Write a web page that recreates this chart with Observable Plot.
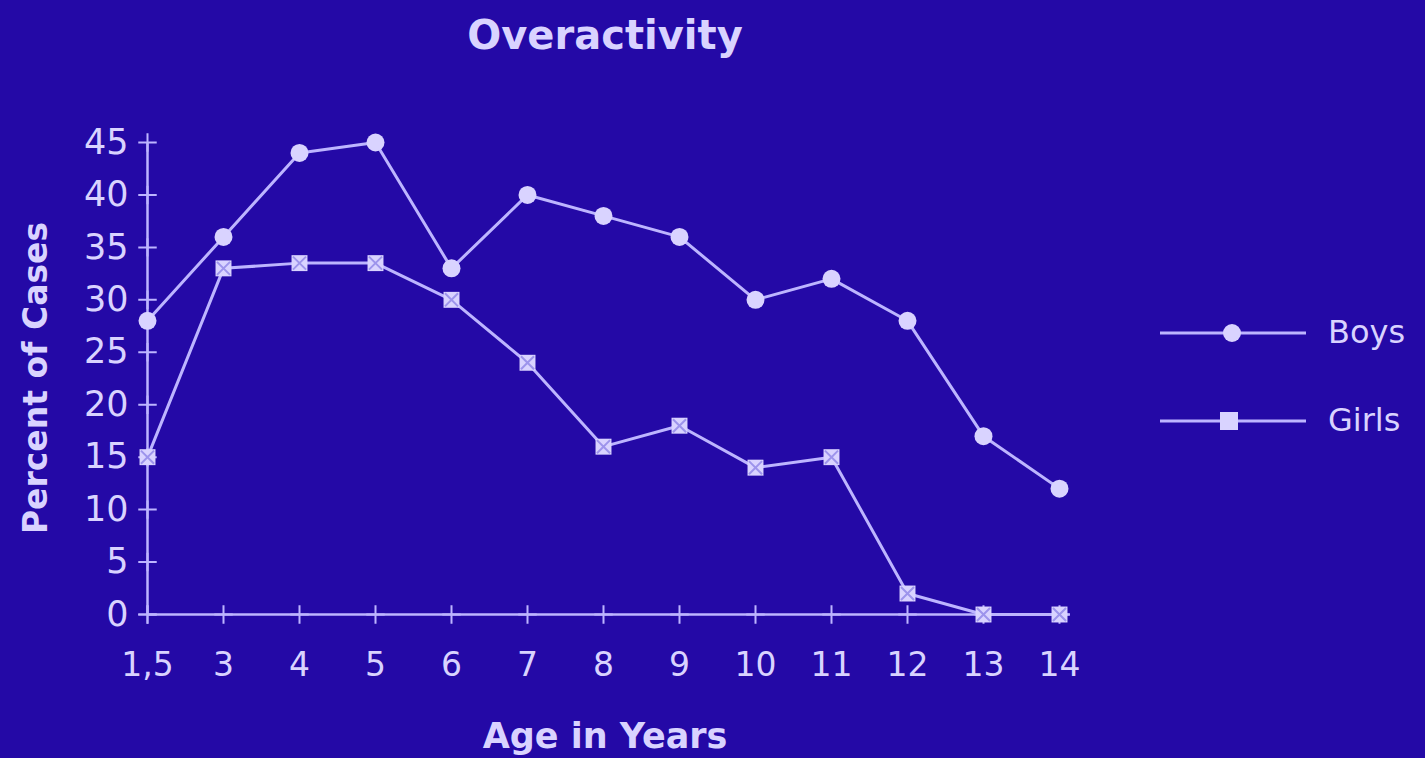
<!DOCTYPE html>
<html><head><meta charset="utf-8">
<script src="https://cdn.jsdelivr.net/npm/d3@7"></script>
<script src="https://cdn.jsdelivr.net/npm/@observablehq/plot@0.6"></script>
<style>
html,body{margin:0;padding:0;background:#2409a6;overflow:hidden}
#wrap{position:relative;width:1425px;height:758px;background:#2409a6}
.t{position:absolute;color:#d9d3ff;font-family:"DejaVu Sans",sans-serif;white-space:nowrap}
</style></head>
<body><div id="wrap"></div>
<script>
const title = "Overactivity";
const xLabel = "Age in Years";
const yLabel = "Percent of Cases";
const ages = ["1,5","3","4","5","6","7","8","9","10","11","12","13","14"];
const boys = [28,36,44,45,33,40,38,36,30,32,28,17,12];
const girls = [15,33,33.5,33.5,30,24,16,18,14,15,2,0,0];
const yTicks = [0,5,10,15,20,25,30,35,40,45];
const seriesNames = ["Boys","Girls"];

const fg = "#d9d3ff";
const lineCol = "#bdb5ff";
const bg = "#2409a6";

const boyData = ages.map((a,i)=>({age:a, v:boys[i]}));
const girlData = ages.map((a,i)=>({age:a, v:girls[i]}));

const chart = Plot.plot({
  width: 1425, height: 758,
  marginLeft: 148, marginRight: 355, marginTop: 142, marginBottom: 144,
  style: {background: bg, color: fg, fontFamily: "DejaVu Sans, sans-serif"},
  x: {type: "point", domain: ages, range: [143, 1063], padding: 0, align: 0.5},
  y: {domain: [0,45], range: [614, 142]},
  marks: [
    Plot.ruleX([ages[0]], {stroke: lineCol, strokeWidth: 2.5}),
    Plot.ruleY([0], {stroke: lineCol, strokeWidth: 2.5}),
    Plot.dot(yTicks, {x: () => ages[0], y: d => d, symbol: "plus", r: 6, stroke: lineCol, strokeWidth: 2}),
    Plot.dot(ages, {x: d => d, y: () => 0, symbol: "plus", r: 6, stroke: lineCol, strokeWidth: 2}),
    Plot.axisY(yTicks, {tickSize: 0, tickPadding: 20, fontSize: 35, label: null, color: fg}),
    Plot.axisX({tickSize: 0, tickPadding: 38, fontSize: 33, label: null, color: fg}),
    Plot.line(boyData, {x: "age", y: "v", stroke: lineCol, strokeWidth: 3}),
    Plot.line(girlData, {x: "age", y: "v", stroke: lineCol, strokeWidth: 3}),
    Plot.dot(boyData, {x: "age", y: "v", r: 9, fill: fg, stroke: "none"}),
    Plot.dot(girlData, {x: "age", y: "v", symbol: "square", r: 9, fill: fg, stroke: "none"}),
    Plot.dot(girlData, {x: "age", y: "v", symbol: "times", r: 6, stroke: "#9d94ec", strokeWidth: 2})
  ]
});
const wrap = document.getElementById("wrap");
wrap.appendChild(chart);
chart.style.position = "absolute"; chart.style.left = "0"; chart.style.top = "0";

function addText(txt, css){
  const d = document.createElement("div"); d.className = "t"; d.textContent = txt;
  Object.assign(d.style, css); wrap.appendChild(d); return d;
}
addText(title, {left: "605px", top: "12px", transform: "translateX(-50%)", fontSize: "40px", fontWeight: "bold"});
addText(xLabel, {left: "605px", top: "716px", transform: "translateX(-50%)", fontSize: "35px", fontWeight: "bold"});
addText(yLabel, {left: "35px", top: "378px", transform: "translate(-50%,-50%) rotate(-90deg)", fontSize: "33px", fontWeight: "bold"});

// legend
const ly = [333, 421];
seriesNames.forEach((name, i) => {
  const ns = "http://www.w3.org/2000/svg";
  const s = document.createElementNS(ns, "svg");
  s.setAttribute("width", 150); s.setAttribute("height", 30);
  s.style.position = "absolute"; s.style.left = "1158px"; s.style.top = (ly[i]-15) + "px";
  const l = document.createElementNS(ns, "line");
  l.setAttribute("x1", 2); l.setAttribute("x2", 148); l.setAttribute("y1", 15); l.setAttribute("y2", 15);
  l.setAttribute("stroke", lineCol); l.setAttribute("stroke-width", 3); s.appendChild(l);
  if (i === 0) {
    const c = document.createElementNS(ns, "circle");
    c.setAttribute("cx", 74); c.setAttribute("cy", 15); c.setAttribute("r", 9); c.setAttribute("fill", fg); s.appendChild(c);
  } else {
    const r = document.createElementNS(ns, "rect");
    r.setAttribute("x", 62); r.setAttribute("y", 6); r.setAttribute("width", 18); r.setAttribute("height", 18); r.setAttribute("fill", fg); s.appendChild(r);
  }
  wrap.appendChild(s);
  addText(name, {left: "1328px", top: (ly[i]-20) + "px", fontSize: "32px"});
});
</script>
</body></html>
